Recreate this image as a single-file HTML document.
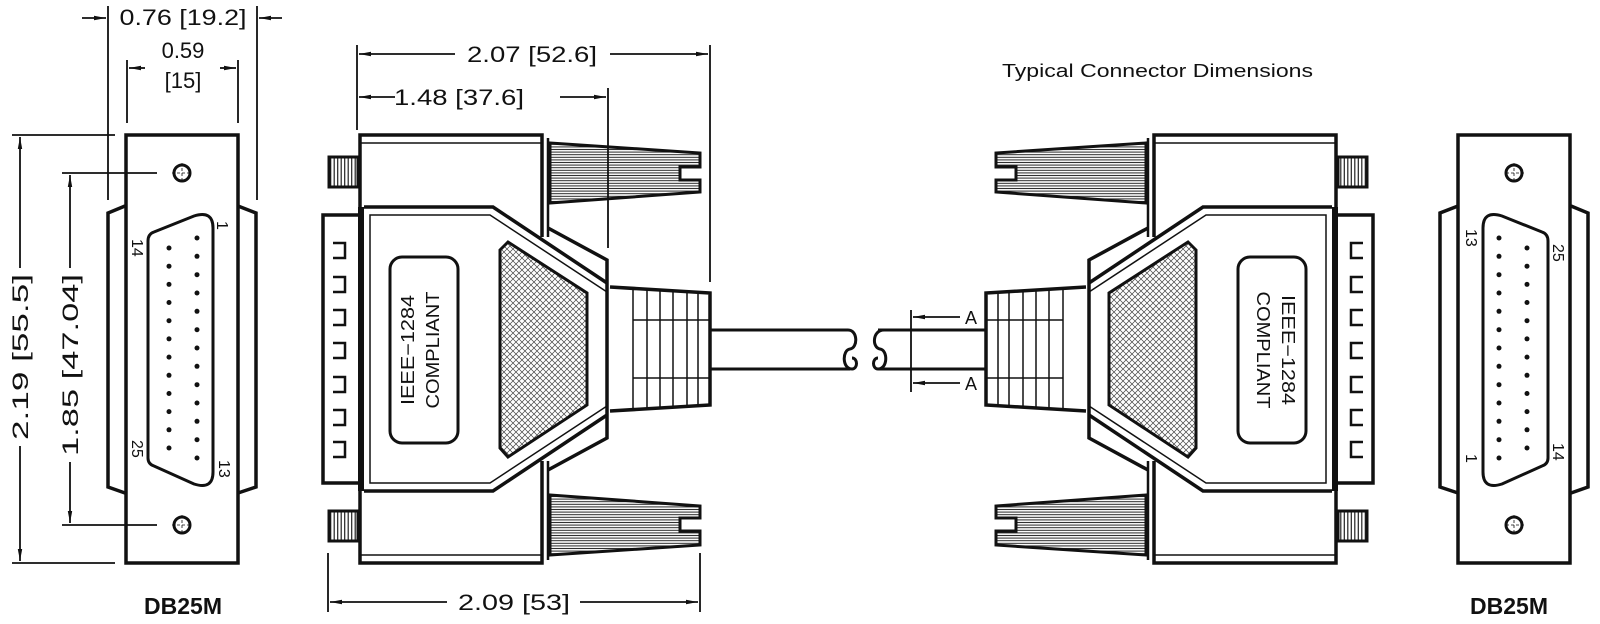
<!DOCTYPE html>
<html><head><meta charset="utf-8"><style>
html,body{margin:0;padding:0;background:#fff;}
svg{display:block;}
text{font-family:"Liberation Sans",sans-serif;fill:#111;}
</style></head><body>
<svg width="1600" height="624" viewBox="0 0 1600 624" xmlns="http://www.w3.org/2000/svg">
<defs>
<pattern id="hh" width="4" height="2.6" patternUnits="userSpaceOnUse"><rect width="4" height="2.6" fill="#fff"/><line x1="0" y1="1.3" x2="4" y2="1.3" stroke="#222" stroke-width="1"/></pattern>
<pattern id="vh" width="3.5" height="4" patternUnits="userSpaceOnUse"><rect width="3.5" height="4" fill="#fff"/><line x1="1.7" y1="0" x2="1.7" y2="4" stroke="#222" stroke-width="1.2"/></pattern>
<pattern id="mesh" width="6" height="6" patternUnits="userSpaceOnUse"><rect width="6" height="6" fill="#fff"/><path d="M0,0 L6,6 M6,0 L0,6" stroke="#444" stroke-width="0.7"/></pattern>
<marker id="ar" viewBox="0 0 12 6" refX="12" refY="3" markerWidth="12" markerHeight="6" markerUnits="userSpaceOnUse" orient="auto"><path d="M0,0.8 L12,3 L0,5.2 Z" fill="#111"/></marker>

<g id="halfC" fill="none" stroke="#111">
  <path d="M360,210 V135 H542 V237" stroke-width="3.5"/>
  <line x1="360" y1="143" x2="542" y2="143" stroke-width="1.5"/>
  <line x1="548" y1="138" x2="548" y2="237" stroke-width="2.5"/>
  <rect x="329" y="157" width="29" height="30" fill="url(#vh)" stroke-width="3"/>
  <path d="M550,143 L700,153 V167 H680 V180 H700 V192 L550,203 Z" fill="url(#hh)" stroke-width="3"/>
  <path d="M358,215 H323 V349" stroke-width="3.5"/>
  <line x1="361" y1="207" x2="361" y2="349" stroke-width="6"/>
  <path d="M364,207 H493 L607,283" stroke-width="3.5"/>
  <path d="M370,349 V215 H490 L607,292" stroke-width="1.5"/>
  <path d="M548,228 L607,260 V349" stroke-width="3.5"/>
  <path d="M610,287 L710,293 V349" stroke-width="3.5"/>
  <path d="M633,288 V349 M647,289 V349 M660,290 V349 M673,291 V349 M687,292 V349 M698,292 V349" stroke-width="1.5"/>
  <path d="M633,320 H710" stroke-width="1.5"/>
</g>
<g id="conn">
  <use href="#halfC"/>
  <use href="#halfC" transform="matrix(1,0,0,-1,0,698)"/>
  <path d="M333,243 H345 V258 H333 M333,277 H345 V292 H333 M333,310 H345 V325 H333 M333,343 H345 V358 H333 M333,377 H345 V392 H333 M333,410 H345 V425 H333 M333,442 H345 V457 H333" fill="none" stroke="#111" stroke-width="2.5"/>
  <polygon points="500,250 508,242 587,293 587,405 508,457 500,448" fill="url(#mesh)" stroke="#111" stroke-width="3"/>
  <rect x="390" y="257" width="68" height="186" rx="12" fill="none" stroke="#111" stroke-width="3"/>
</g>
<g id="panel" fill="none" stroke="#111">
  <rect x="126" y="135" width="112" height="428" stroke-width="3.5"/>
  <path d="M125,206 L108,213 V487 L125,493 M238,206 L256,213 V487 L238,493" stroke-width="3.5"/>
  <path d="M154,232 Q148,234 148,241 V458 Q148,464 154,466 L194,484 Q213,490 213,472 V228 Q213,210 194,216 Z" stroke-width="3"/>
  <circle cx="182" cy="173" r="8" stroke-width="3"/>
  <circle cx="182" cy="525" r="8" stroke-width="3"/>
  <path d="M182,163 V183 M172,173 H192 M182,515 V535 M172,525 H192" stroke-width="0.8" stroke-dasharray="3,2"/>
  <g fill="#111" stroke="none">
    <circle cx="197" cy="238" r="2.5"/><circle cx="197" cy="256.3" r="2.5"/><circle cx="197" cy="274.7" r="2.5"/><circle cx="197" cy="293" r="2.5"/><circle cx="197" cy="311.3" r="2.5"/><circle cx="197" cy="329.7" r="2.5"/><circle cx="197" cy="348" r="2.5"/><circle cx="197" cy="366.3" r="2.5"/><circle cx="197" cy="384.7" r="2.5"/><circle cx="197" cy="403" r="2.5"/><circle cx="197" cy="421.3" r="2.5"/><circle cx="197" cy="439.7" r="2.5"/><circle cx="197" cy="458" r="2.5"/>
    <circle cx="169" cy="248" r="2.5"/><circle cx="169" cy="266.2" r="2.5"/><circle cx="169" cy="284.4" r="2.5"/><circle cx="169" cy="302.5" r="2.5"/><circle cx="169" cy="320.7" r="2.5"/><circle cx="169" cy="338.9" r="2.5"/><circle cx="169" cy="357.1" r="2.5"/><circle cx="169" cy="375.3" r="2.5"/><circle cx="169" cy="393.5" r="2.5"/><circle cx="169" cy="411.6" r="2.5"/><circle cx="169" cy="429.8" r="2.5"/><circle cx="169" cy="448" r="2.5"/>
  </g>
</g>
</defs>

<use href="#conn"/>
<use href="#conn" transform="matrix(-1,0,0,1,1696,0)"/>
<use href="#panel"/>
<use href="#panel" transform="matrix(-1,0,0,1,1696,0)"/>

<!-- cable -->
<g fill="none" stroke="#111" stroke-width="3">
  <path d="M710,330 H848 C858,330 858,348 850,349 C842,350 842,369 852,369 C858,369 858,358 852,358 M710,369 H850"/>
  <path d="M886,330 H884 C872,330 872,348 880,349 C888,350 888,369 878,369 C872,369 872,358 878,358"/>
  <path d="M878,330 H986 M878,369 H986"/>
</g>

<!-- dimension lines -->
<g fill="none" stroke="#111" stroke-width="1.8">
  <path d="M108,6 V200 M257,6 V200 M127,60 V123 M238,60 V123"/>
  <path d="M82,18 H106" marker-end="url(#ar)"/>
  <path d="M282,18 H259" marker-end="url(#ar)"/>
  <path d="M145,68 H129" marker-end="url(#ar)"/>
  <path d="M220,68 H236" marker-end="url(#ar)"/>
  <path d="M12,135 H115 M12,563 H115 M62,173 H157 M62,525 H157"/>
  <path d="M20,268 V137" marker-end="url(#ar)"/>
  <path d="M20,446 V561" marker-end="url(#ar)"/>
  <path d="M70,268 V175" marker-end="url(#ar)"/>
  <path d="M70,462 V523" marker-end="url(#ar)"/>
  <path d="M357,45 V130 M710,45 V282 M608,88 V248"/>
  <path d="M455,54 H359" marker-end="url(#ar)"/>
  <path d="M610,54 H708" marker-end="url(#ar)"/>
  <path d="M395,97 H359" marker-end="url(#ar)"/>
  <path d="M560,97 H606" marker-end="url(#ar)"/>
  <path d="M328,553 V612 M700,553 V612"/>
  <path d="M447,602 H330" marker-end="url(#ar)"/>
  <path d="M580,602 H698" marker-end="url(#ar)"/>
  <path d="M911,310 V392"/>
  <path d="M960,317 H913" marker-end="url(#ar)"/>
  <path d="M960,383 H913" marker-end="url(#ar)"/>
</g>

<g font-size="22">
  <text x="183" y="25" text-anchor="middle" textLength="127" lengthAdjust="spacingAndGlyphs">0.76  [19.2]</text>
  <text x="183" y="58" text-anchor="middle">0.59</text>
  <text x="183" y="88" text-anchor="middle">[15]</text>
  <text x="532" y="62" text-anchor="middle" textLength="130" lengthAdjust="spacingAndGlyphs">2.07  [52.6]</text>
  <text x="459" y="105" text-anchor="middle" textLength="130" lengthAdjust="spacingAndGlyphs">1.48  [37.6]</text>
  <text x="514" y="610" text-anchor="middle" textLength="112" lengthAdjust="spacingAndGlyphs">2.09  [53]</text>
  <text transform="translate(28,357) rotate(-90)" text-anchor="middle" textLength="166" lengthAdjust="spacingAndGlyphs">2.19  [55.5]</text>
  <text transform="translate(78,365) rotate(-90)" text-anchor="middle" textLength="182" lengthAdjust="spacingAndGlyphs">1.85  [47.04]</text>
</g>
<g font-size="18">
  <text x="965" y="324">A</text>
  <text x="965" y="390">A</text>
  <text x="1002" y="77" textLength="311" lengthAdjust="spacingAndGlyphs">Typical  Connector  Dimensions</text>
  <text transform="translate(414,350) rotate(-90)" text-anchor="middle" textLength="110" lengthAdjust="spacingAndGlyphs">IEEE−1284</text>
  <text transform="translate(439,350) rotate(-90)" text-anchor="middle" textLength="117" lengthAdjust="spacingAndGlyphs">COMPLIANT</text>
  <text transform="translate(1282,350) rotate(90)" text-anchor="middle" textLength="110" lengthAdjust="spacingAndGlyphs">IEEE−1284</text>
  <text transform="translate(1257,350) rotate(90)" text-anchor="middle" textLength="117" lengthAdjust="spacingAndGlyphs">COMPLIANT</text>
</g>
<g font-size="16">
  <text transform="translate(217,221) rotate(90)">1</text>
  <text transform="translate(132,239) rotate(90)">14</text>
  <text transform="translate(132,440) rotate(90)">25</text>
  <text transform="translate(219,460) rotate(90)">13</text>
  <text transform="translate(1466,229) rotate(90)">13</text>
  <text transform="translate(1553,244) rotate(90)">25</text>
  <text transform="translate(1466,454) rotate(90)">1</text>
  <text transform="translate(1553,443) rotate(90)">14</text>
</g>
<g font-size="23" font-weight="bold">
  <text x="183" y="614" text-anchor="middle">DB25M</text>
  <text x="1509" y="614" text-anchor="middle">DB25M</text>
</g>
</svg>
</body></html>
